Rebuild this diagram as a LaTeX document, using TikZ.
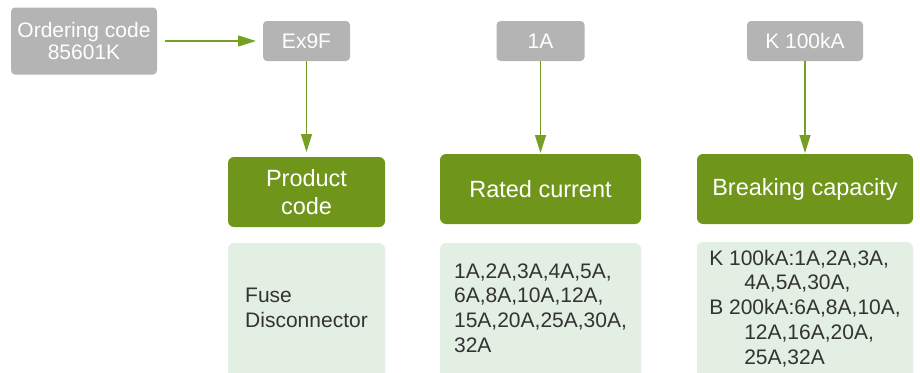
\documentclass[tikz,border=0pt]{standalone}
\usepackage{fontspec}
\setmainfont{Liberation Sans}
\usetikzlibrary{positioning,arrows.meta}
\definecolor{codegray}{HTML}{B4B4B4}
\definecolor{headgreen}{HTML}{6F961A}
\definecolor{flowgreen}{HTML}{76A024}
\definecolor{listgreen}{HTML}{E2EFE2}
\definecolor{listtext}{HTML}{333333}

\begin{document}
\begin{tikzpicture}[
  x=1pt, y=-1pt, outer sep=0pt,
  codebox/.style={fill=codegray, rounded corners=4pt, text=white, align=center, inner sep=0pt,
    minimum height=40pt, font=\fontsize{21}{22.5}\selectfont},
  headbox/.style={fill=headgreen, rounded corners=6pt, text=white, align=center, inner sep=0pt,
    minimum height=70pt, font=\fontsize{23.5}{28}\selectfont},
  listbox/.style={fill=listgreen, rounded corners=6pt, text=listtext, align=left, inner sep=0pt,
    minimum height=150pt, text depth=20pt, font=\fontsize{21}{24.8}\selectfont},
  flow/.style={draw=flowgreen, line width=1.4pt, -{Triangle[length=18pt,width=11pt]}}
]
  \useasboundingbox (0,0) rectangle (920,372);
  % field headings
  \node[headbox, minimum width=157pt] (product) at (306.5,192) {Product\\code};
  \node[headbox, minimum width=201pt] (rated) at (540.5,189) {Rated current};
  \node[headbox, minimum width=216pt] (breaking) at (805,189) {Breaking capacity};
  % code parts
  \node[codebox, minimum width=87pt, above=96pt of product] (ex9f) {Ex9F};
  \node[codebox, minimum width=88pt, above=93pt of rated] (amp) {1A};
  \node[codebox, minimum width=116pt, above=93pt of breaking] (kcap) {K 100kA};
  \node[codebox, minimum width=146pt, minimum height=67pt, left=106pt of ex9f] (order) {Ordering code\\85601K};
  % option lists
  \node[listbox, minimum width=157pt, below=16pt of product] (prodlist) {Fuse\\Disconnector};
  \node[listbox, minimum width=201pt, below=19pt of rated] (ratedlist) {1A,2A,3A,4A,5A,\\6A,8A,10A,12A,\\15A,20A,25A,30A,\\32A};
  \node[listbox, minimum width=216pt, below=18pt of breaking] (breaklist) {K 100kA:1A,2A,3A,\\\hspace*{35pt}4A,5A,30A,\\B 200kA:6A,8A,10A,\\\hspace*{35pt}12A,16A,20A,\\\hspace*{35pt}25A,32A};
  % connectors
  \draw[flow, shorten <=8pt, shorten >=7pt] (order) -- (ex9f);
  \draw[flow, shorten >=5pt] (ex9f) -- (product);
  \draw[flow, shorten >=1pt] (amp) -- (rated);
  \draw[flow, shorten >=1pt] (kcap) -- (breaking);
\end{tikzpicture}
\end{document}
